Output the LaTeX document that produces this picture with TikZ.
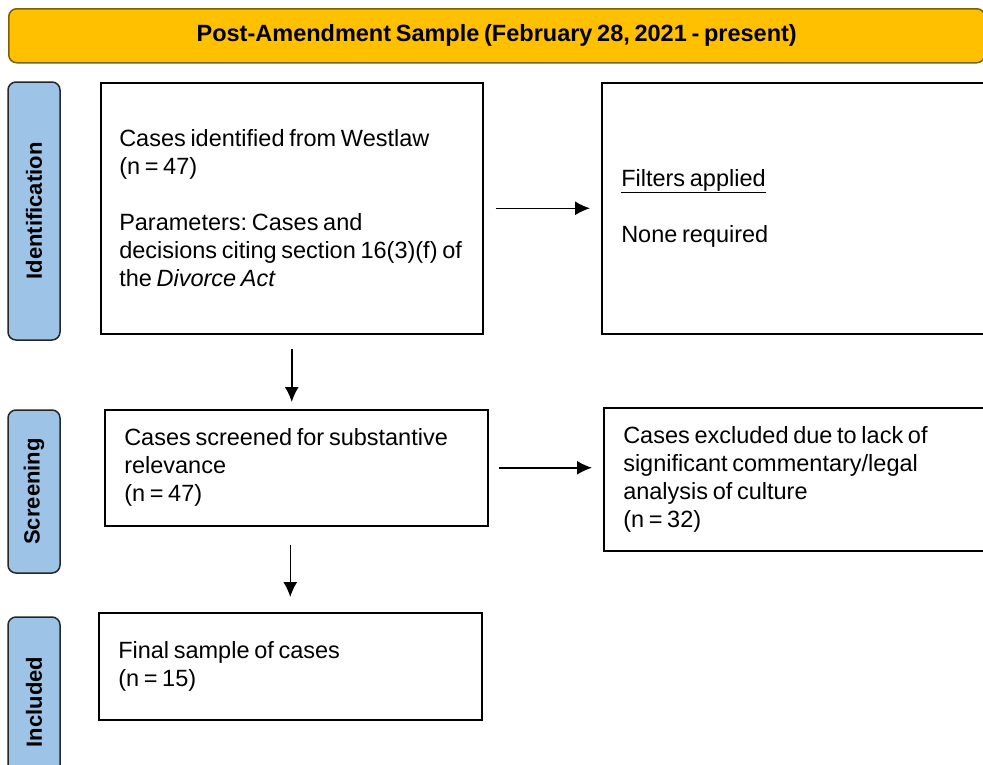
\documentclass[tikz,border=0pt]{standalone}
\usepackage{fontspec}
\setmainfont{Liberation Sans}
\usetikzlibrary{arrows.meta}
\definecolor{bargold}{HTML}{FFC000}
\definecolor{bardark}{HTML}{7F6000}
\definecolor{stageblue}{HTML}{9DC3E6}
\newcommand{\tightwords}{\frenchspacing\spaceskip=0.2em plus 0.05em minus 0.02em\relax}
\tikzstyle{stage}=[%
	draw = black!85, line width = 1.5pt, fill = stageblue,
	rounded corners = 8pt, rotate = 90, minimum height = 52pt,
	inner sep = 0pt, font = \fontsize{22}{26}\selectfont\bfseries\tightwords
]
\tikzstyle{box}=[%
	draw, line width = 1.5pt, anchor = north west, align = flush left,
	inner xsep = 19.5pt, inner ysep = 0pt, text width = 344pt,
	font = \fontsize{23.5}{28}\selectfont\tightwords
]
\tikzstyle{flow}=[%
	line width = 1.5pt, -{Latex[length=15pt,width=14pt]}
]

\begin{document}
\begin{tikzpicture}[x=1pt, y=-1pt]
	% Background, frame
	\clip (0,0) rectangle (983,764);
	\fill[white] (0,0) rectangle (983,764);

	% Title bar
	\node[draw=bardark, line width=1.5pt, fill=bargold, rounded corners=8pt,
		minimum width=976pt, minimum height=54pt, anchor=north west,
		font=\fontsize{23.5}{26}\selectfont\bfseries\tightwords] (title) at (8,8)
		{Post-Amendment Sample (February 28, 2021 - present)};

	% Stages
	\foreach \name/\y/\len in {Identification/211/258, Screening/491.5/163, Included/702/170} {
		\node[stage, minimum width=\len pt] (st-\name) at (34,\y) {\name};
	}

	% Boxes
	\node[box, inner xsep=18.5pt, text width=345pt, minimum height=251pt] (ident) at (100,82)
		{Cases identified from Westlaw\\(n = 47)\\[28pt]
		 Parameters: Cases and\\decisions citing section 16(3)(f) of\\the \textit{Divorce Act}};
	\node[box, text width=360pt, minimum height=251pt] (filters) at (601,82)
		{\underline{Filters applied}\\[28pt]None required};
	\node[box, minimum height=116pt] (screen) at (104,409)
		{Cases screened for substantive\\relevance\\(n = 47)};
	\node[box, text width=360pt, minimum height=143pt] (excluded) at (603,407)
		{Cases excluded due to lack of\\significant commentary/legal\\analysis of culture\\(n = 32)};
	\node[box, minimum height=107pt] (final) at (98,612)
		{Final sample of cases\\(n = 15)};

	% Arrows
	\draw[flow, shorten <=12pt, shorten >=11pt] (ident.east) -- (filters.west);
	\draw[flow, shorten <=14pt, shorten >=7pt] (ident.south) -- (ident.south |- screen.north);
	\draw[flow, shorten <=10pt, shorten >=11pt] (screen.east) -- (screen.east -| excluded.west);
	\draw[flow, shorten <=18pt, shorten >=15pt] (final.north |- screen.south) -- (final.north);
\end{tikzpicture}
\end{document}
